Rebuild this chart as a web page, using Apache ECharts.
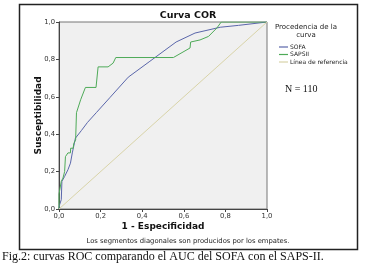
<!DOCTYPE html>
<html>
<head>
<meta charset="utf-8">
<script src="https://cdn.jsdelivr.net/npm/echarts@6/dist/echarts.min.js"></script>
<style>
  html, body { margin: 0; padding: 0; background: #fff; }
  #chart { width: 390px; height: 269px; }
</style>
</head>
<body>
<div id="chart"></div>
<script>
// ROC points (1 - especificidad, susceptibilidad)
const sofaFpr = [0, 0.003, 0.011, 0.014, 0.027, 0.043, 0.055, 0.064, 0.079, 0.108, 0.137, 0.18, 0.244, 0.333, 0.437, 0.563, 0.654, 0.775, 0.863, 1];
const sofaTpr = [0, 0.023, 0.05, 0.148, 0.174, 0.21, 0.245, 0.3, 0.379, 0.42, 0.463, 0.516, 0.595, 0.705, 0.79, 0.893, 0.941, 0.972, 0.982, 1];

const sapsFpr = [0, 0, 0.011, 0.019, 0.027, 0.031, 0.043, 0.055, 0.056, 0.068, 0.071, 0.08, 0.084, 0.104, 0.127, 0.178, 0.188, 0.236, 0.26, 0.273, 0.55, 0.63, 0.633, 0.678, 0.719, 0.759, 0.78, 1];
const sapsTpr = [0, 0.08, 0.148, 0.165, 0.2, 0.28, 0.3, 0.3, 0.325, 0.325, 0.35, 0.37, 0.515, 0.584, 0.65, 0.65, 0.76, 0.76, 0.78, 0.81, 0.81, 0.861, 0.893, 0.904, 0.923, 0.968, 1, 1];

const refLine = [[0, 0], [1, 1]];

const zip = (xs, ys) => xs.map((x, i) => [x, ys[i]]);
const fmt = v => v.toFixed(1).replace(".", ",");

const chart = echarts.init(document.getElementById("chart"), null, { renderer: "canvas" });

const sans = "'DejaVu Sans', Verdana, sans-serif";
const serif = "'Liberation Serif', 'DejaVu Serif', serif";

const axisCommon = {
  type: "value",
  min: 0,
  max: 1,
  interval: 0.2,
  axisLine: { show: true, lineStyle: { color: "#444", width: 1 } },
  axisTick: { show: true, length: 3, inside: false, lineStyle: { color: "#444" } },
  axisLabel: { fontSize: 6.8, color: "#333", fontFamily: sans, formatter: fmt, margin: 4 },
  splitLine: { show: false },
  nameLocation: "middle",
  nameMoveOverlap: false,
  nameTextStyle: { fontSize: 9, fontWeight: "bold", color: "#111", fontFamily: sans },
};

chart.setOption({
  animation: false,
  backgroundColor: "#fff",
  grid: {
    left: 59, right: 123, top: 22, bottom: 60,
    show: true,
    backgroundColor: "#f0f0f0",
    borderColor: "#777",
    borderWidth: 1,
  },
  xAxis: Object.assign({}, axisCommon, {
    name: "1 - Especificidad",
    nameGap: 13,
  }),
  yAxis: Object.assign({}, axisCommon, {
    name: "Susceptibilidad",
    nameGap: 16,
    nameRotate: 90,
  }),
  legend: {
    orient: "vertical",
    left: 274,
    top: 39,
    itemWidth: 9,
    itemHeight: 1.2,
    itemGap: 1.5,
    icon: "rect",
    textStyle: { fontSize: 6, color: "#222", fontFamily: sans, padding: [0, 0, 0, -3] },
    data: ["SOFA", "SAPSII", "Línea de referencia"],
  },
  graphic: [
    {
      type: "rect",
      shape: { x: 19.5, y: 4.5, width: 338, height: 245 },
      style: { fill: "none", stroke: "#222", lineWidth: 1.5 },
    },
    {
      type: "text", x: 188, y: 16,
      style: { text: "Curva COR", fontSize: 9.5, fontWeight: "bold", fill: "#111", fontFamily: sans, align: "center", verticalAlign: "middle" },
    },
    {
      type: "text", x: 306, y: 31,
      style: { text: "Procedencia de la\ncurva", fontSize: 7, lineHeight: 7.5, fill: "#222", fontFamily: sans, align: "center", verticalAlign: "middle" },
    },
    {
      type: "text", x: 285, y: 89,
      style: { text: "N = 110", fontSize: 10, fill: "#111", fontFamily: serif, align: "left", verticalAlign: "middle" },
    },
    {
      type: "text", x: 188, y: 241,
      style: { text: "Los segmentos diagonales son producidos por los empates.", fontSize: 6.8, fill: "#222", fontFamily: sans, align: "center", verticalAlign: "middle" },
    },
    {
      type: "text", x: 2, y: 257,
      style: { text: "Fig.2: curvas ROC comparando el AUC del SOFA con el SAPS-II.", fontSize: 12, fill: "#111", fontFamily: serif, align: "left", verticalAlign: "middle" },
    },
  ],
  series: [
    {
      name: "SOFA", type: "line", data: zip(sofaFpr, sofaTpr),
      showSymbol: false, symbol: "none",
      lineStyle: { color: "#5a66aa", width: 1 }, itemStyle: { color: "#5a66aa" },
    },
    {
      name: "SAPSII", type: "line", data: zip(sapsFpr, sapsTpr),
      showSymbol: false, symbol: "none",
      lineStyle: { color: "#4eaa58", width: 1 }, itemStyle: { color: "#4eaa58" },
    },
    {
      name: "Línea de referencia", type: "line", data: refLine,
      showSymbol: false, symbol: "none",
      lineStyle: { color: "#d8d3a8", width: 1 }, itemStyle: { color: "#d8d3a8" },
    },
  ],
});
</script>
</body>
</html>
